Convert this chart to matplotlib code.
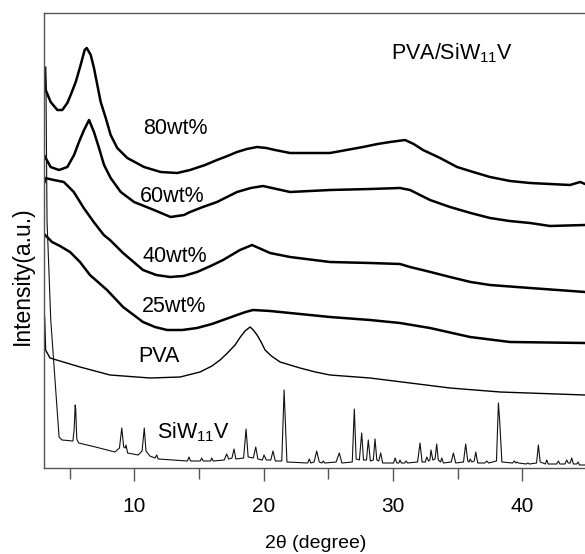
import matplotlib
matplotlib.use("Agg")
import matplotlib.pyplot as plt
from matplotlib.ticker import MultipleLocator

plt.rcParams['font.family'] = ['Liberation Sans', 'DejaVu Sans']
plt.rcParams['mathtext.default'] = 'regular'

# ---- data (2theta in degree, intensity in a.u.) ----
wt80_2theta = [3.06, 3.15, 3.53, 4.05, 4.43, 4.82, 5.08, 5.47, 5.85, 6.16, 6.32, 6.63, 6.88, 7.14, 7.40, 7.79,
               8.17, 8.68, 9.46, 10.75, 12.04, 13.32, 14.31, 15.47, 16.39, 17.2, 17.94, 18.7, 19.49, 20.2,
               20.88, 22.04, 23.59, 25.13, 26.4, 27.68, 28.8, 29.77, 30.93, 31.6, 32.32, 33.64, 34.95,
               36.2, 37.50, 39.05, 40.60, 42.14, 43.69, 44.47, 44.85]
wt80_int = [401, 379, 367, 359, 359, 366, 374, 387, 404, 419, 421, 414, 401, 384, 367, 351,
            334, 321, 311, 302, 297, 296, 299, 304, 309, 313, 317, 320, 322, 321,
            319, 316, 316, 316, 319, 322, 325, 327, 329, 325, 319, 311, 302,
            297, 292, 288, 286, 285, 284, 287, 285]

wt60_2theta = [3.06, 3.53, 4.18, 4.82, 5.34, 5.72, 6.11, 6.50, 6.88, 7.27, 7.66, 8.17, 8.95, 9.98, 11.52,
               12.81, 13.84, 14.31, 15.3, 16.39, 17.94, 19.0, 19.95, 21.0, 22.04, 25.13, 28.22, 30.54,
               31.32, 32.86, 34.41, 36.0, 37.50, 39.0, 40.60, 42.14, 44.85]
wt60_int = [313, 302, 299, 302, 314, 327, 339, 349, 337, 321, 304, 291, 277, 267, 259,
            252, 254, 257, 262, 267, 277, 281, 283, 280, 277, 279, 280, 281,
            279, 269, 262, 256, 251, 248, 246, 243, 244]

wt40_2theta = [3.06, 3.09, 3.78, 4.55, 5.32, 6.09, 6.86, 7.64, 8.12, 9.13, 10.67, 11.7, 12.76, 13.8, 14.85,
               15.9, 16.86, 18.17, 19.10, 19.8, 20.49, 22.04, 25.13, 28.22, 30.54, 31.32, 32.9, 34.41,
               36.0, 37.50, 40.60, 44.85]
wt40_int = [287, 291, 289, 287, 277, 261, 247, 234, 229, 216, 199, 194, 192, 193, 197,
            203, 209, 219, 224, 220, 216, 212, 207, 206, 205, 202, 197, 192,
            187, 184, 181, 177]

wt25_2theta = [3.10, 3.64, 4.25, 5.03, 5.80, 6.57, 7.89, 9.13, 10.67, 11.6, 12.53, 13.7, 14.85, 16.0, 16.86,
               17.94, 18.6, 19.18, 20.5, 22.04, 25.13, 28.22, 30.54, 32.86, 35.96, 39.05, 44.85]
wt25_int = [234, 227, 223, 217, 207, 194, 179, 162, 147, 142, 139, 139, 141, 145, 149,
            154, 157, 159, 158, 156, 152, 149, 146, 141, 132, 127, 126]

pva_2theta = [3.06, 3.14, 3.48, 5.80, 8.12, 11.21, 13.54, 15.08, 16.0, 16.63, 17.2, 17.79, 18.2, 18.56,
              18.95, 19.2, 19.49, 19.8, 20.11, 20.6, 21.27, 22.81, 24.0, 25.13, 28.22, 31.32, 34.41,
              38.28, 44.85]
pva_int = [152, 119, 111, 102, 94, 91, 92, 97, 103, 109, 116, 124, 132, 138,
           142, 139, 134, 127, 119, 113, 107, 101, 97, 94, 91, 86, 81,
           77, 74]

siw_2theta = [3.16, 3.25, 3.54, 3.87, 4.18, 4.41, 5.25, 5.35, 5.43, 5.47, 5.55, 5.7, 7.0, 8.5, 8.85, 9.03, 9.18,
              9.3, 9.36, 9.48, 10.3, 10.6, 10.77, 10.9, 11.2, 11.6, 11.73, 11.85, 14.1, 14.23, 14.35, 15.1,
              15.21, 15.32, 15.9, 15.98, 16.1, 16.95, 17.14, 17.3, 17.55, 17.71, 17.85, 18.45, 18.64, 18.8,
              19.2, 19.39, 19.55, 19.9, 20.03, 20.2, 20.55, 20.72, 20.9, 21.4, 21.58, 21.8, 23.4, 23.53,
              23.65, 23.9, 24.10, 24.3, 24.5, 24.61, 24.72, 25.6, 25.85, 26.05, 26.85, 27.01, 27.15, 27.4,
              27.58, 27.72, 27.95, 28.09, 28.25, 28.48, 28.61, 28.75, 28.9, 29.05, 29.2, 30.05, 30.16, 30.3,
              30.45, 30.54, 30.65, 30.9, 31.01, 31.12, 31.9, 32.09, 32.25, 32.5, 32.61, 32.75, 32.85, 32.94,
              33.08, 33.25, 33.38, 33.5, 33.68, 33.77, 33.9, 34.5, 34.67, 34.85, 35.45, 35.62, 35.78, 35.88,
              35.96, 36.1, 36.28, 36.40, 36.55, 37.1, 37.25, 37.4, 38.0, 38.15, 38.24, 38.3, 38.42, 39.25,
              39.38, 39.5, 39.6, 39.7, 40.3, 40.42, 40.55, 41.1, 41.24, 41.38, 41.78, 41.89, 42.0, 42.65,
              42.79, 42.9, 43.3, 43.43, 43.55, 43.7, 43.82, 43.95, 44.2, 44.31, 44.42, 45.0]
siw_int = [402, 249, 149, 89, 32, 29, 28, 40, 64, 60, 30, 26, 22, 17, 21, 41, 22,
           21, 24, 16, 14, 18, 41, 18, 13, 11, 14, 10, 8, 12, 8, 8,
           11, 8, 8, 11, 8, 9, 15, 10, 11, 20, 10, 11, 40, 12,
           11, 22, 10, 9, 14, 9, 9, 18, 8, 8, 79, 7, 6, 10,
           6, 7, 18, 7, 6, 8, 6, 7, 16, 6, 7, 60, 10, 9,
           36, 9, 9, 29, 8, 9, 30, 9, 8, 16, 6, 6, 11, 6,
           6, 9, 6, 6, 8, 6, 7, 26, 7, 7, 12, 8, 9, 19,
           9, 10, 25, 9, 7, 11, 6, 7, 16, 6, 7, 25, 8, 7,
           10, 7, 8, 17, 6, 6, 8, 6, 8, 66, 50, 36, 7, 6,
           8, 6, 7, 6, 5, 6, 5, 6, 24, 7, 5, 9, 5, 5,
           8, 5, 5, 9, 6, 6, 11, 5, 5, 7, 4, 4]

curve_labels = ["80wt%", "60wt%", "40wt%", "25wt%", "PVA", "SiW$_{11}$V"]
label_x = [10.67, 10.44, 10.67, 10.60, 10.29, 11.75]
label_y = [341, 272, 212, 163, 112, 37]
title_text = "PVA/SiW$_{11}$V"

# ---- figure ----
fig = plt.figure(figsize=(5.85, 5.54), dpi=100)
ax = fig.add_axes([44.3 / 585, 86 / 554, 542.7 / 585, 455 / 554])

for xs, ys in [(wt80_2theta, wt80_int), (wt60_2theta, wt60_int),
               (wt40_2theta, wt40_int), (wt25_2theta, wt25_int)]:
    ax.plot(xs, ys, color='black', lw=1.8, solid_joinstyle='round')
ax.plot(pva_2theta, pva_int, color='black', lw=1.0)
ax.plot(siw_2theta, siw_int, color='#111111', lw=0.8)

for t, x, y in zip(curve_labels, label_x, label_y):
    ax.text(x, y, t, fontsize=15.5, ha='left', va='center')
ax.text(29.86, 416, title_text, fontsize=15.5, ha='left', va='center')

ax.set_xlim(3.04, 45.0)
ax.set_ylim(1, 456)
ax.xaxis.set_major_locator(MultipleLocator(10))
ax.xaxis.set_minor_locator(MultipleLocator(5))
ax.tick_params(axis='x', which='major', direction='out', length=9, width=1.0,
               color='#555555', labelsize=15, pad=12)
ax.tick_params(axis='x', which='minor', direction='out', length=8, width=1.0, color='#555555')
ax.set_yticks([])
for s in ax.spines.values():
    s.set_color('#555555')
    s.set_linewidth(1.0)

ax.set_xlabel("2θ (degree)", fontsize=14)
ax.xaxis.set_label_coords(0.5, -0.147)
ax.xaxis.label.set_va('top')
ax.set_ylabel("Intensity(a.u.)", fontsize=16.5)
ax.yaxis.set_label_coords(-0.041, 0.422)
ax.yaxis.label.set_va('center')

fig.savefig("out.png", dpi=100)
